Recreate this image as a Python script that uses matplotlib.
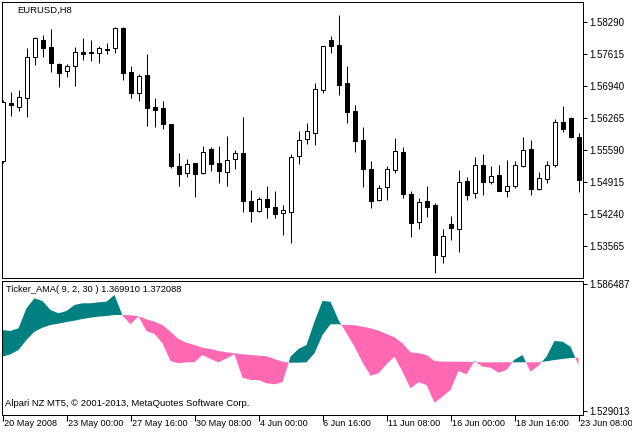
import matplotlib
matplotlib.use('Agg')
import matplotlib.pyplot as plt
import numpy as np

plt.rcParams['font.family'] = ['Liberation Sans', 'DejaVu Sans']

# ---- EURUSD H8 candles ----
opens = [1.55358, 1.56592, 1.56497, 1.56687, 1.57552, 1.57910, 1.57763, 1.57404, 1.57256, 1.57362,
         1.57657, 1.57657, 1.57636, 1.57731, 1.57741, 1.58163, 1.57235, 1.56792, 1.57172, 1.56497,
         1.56476, 1.56138, 1.55252, 1.55105, 1.55316, 1.55105, 1.55611, 1.55316, 1.55126, 1.55400,
         1.55527, 1.54514, 1.54303, 1.54556, 1.54388, 1.54261, 1.54282, 1.55463, 1.55822, 1.55949,
         1.56856, 1.57910, 1.57805, 1.57003, 1.56413, 1.55801, 1.55189, 1.54535, 1.54809, 1.55168,
         1.55548, 1.54662, 1.54071, 1.54514, 1.54430, 1.53354, 1.54029, 1.53924, 1.54936, 1.54683,
         1.55274, 1.54915, 1.55063, 1.54725, 1.54831, 1.55252, 1.55611, 1.54767, 1.54978, 1.55274,
         1.56181, 1.56265, 1.55864]
closes = [1.56602, 1.56529, 1.56708, 1.57552, 1.57952, 1.57741, 1.57425, 1.57214, 1.57362, 1.57657,
          1.57615, 1.57636, 1.57741, 1.57710, 1.58163, 1.57214, 1.56792, 1.57151, 1.56476, 1.56434,
          1.56138, 1.55252, 1.55084, 1.55295, 1.55084, 1.55548, 1.55295, 1.55147, 1.55379, 1.55527,
          1.54514, 1.54303, 1.54556, 1.54388, 1.54240, 1.54324, 1.55442, 1.55801, 1.55991, 1.56877,
          1.57784, 1.57784, 1.56961, 1.56392, 1.55780, 1.55189, 1.54514, 1.54788, 1.55189, 1.55569,
          1.54662, 1.54050, 1.54493, 1.54388, 1.53375, 1.53776, 1.53945, 1.54915, 1.54641, 1.55274,
          1.54915, 1.55042, 1.54725, 1.54831, 1.55274, 1.55590, 1.54767, 1.54999, 1.55274, 1.56181,
          1.56033, 1.55864, 1.54957]
highs = [1.56645, 1.56813, 1.56856, 1.57741, 1.57974, 1.58016, 1.58142, 1.57425, 1.57404, 1.57763,
         1.57952, 1.57910, 1.57784, 1.57847, 1.58184, 1.58184, 1.57362, 1.57193, 1.57615, 1.56687,
         1.56624, 1.56138, 1.55527, 1.55400, 1.55316, 1.55674, 1.55653, 1.55674, 1.55885, 1.55590,
         1.56286, 1.54746, 1.54599, 1.54831, 1.54725, 1.54430, 1.55506, 1.55991, 1.56159, 1.57003,
         1.57784, 1.57995, 1.58438, 1.57362, 1.56539, 1.56075, 1.55358, 1.54852, 1.55252, 1.55843,
         1.55653, 1.54725, 1.54577, 1.54831, 1.54472, 1.53924, 1.54198, 1.55168, 1.55020, 1.55442,
         1.55506, 1.55252, 1.55274, 1.55379, 1.55358, 1.55864, 1.55801, 1.55126, 1.55358, 1.56244,
         1.56518, 1.56286, 1.55949]
lows = [1.55316, 1.56307, 1.56413, 1.56286, 1.57383, 1.57552, 1.57235, 1.56919, 1.57130, 1.56940,
        1.57488, 1.57467, 1.57425, 1.57615, 1.57636, 1.57067, 1.56687, 1.56624, 1.56096, 1.56075,
        1.56033, 1.55210, 1.54831, 1.55020, 1.54599, 1.55084, 1.55147, 1.54894, 1.54831, 1.55189,
        1.54282, 1.54071, 1.54282, 1.54156, 1.54156, 1.53797, 1.53628, 1.55295, 1.55717, 1.55695,
        1.56792, 1.57636, 1.56750, 1.56159, 1.55548, 1.54809, 1.54366, 1.54514, 1.54535, 1.55105,
        1.54577, 1.53755, 1.53924, 1.54177, 1.52995, 1.53206, 1.53691, 1.53438, 1.54535, 1.54577,
        1.54641, 1.54873, 1.54725, 1.54599, 1.54788, 1.55231, 1.54641, 1.54746, 1.54894, 1.55231,
        1.55970, 1.55843, 1.54704]

# ---- Ticker_AMA indicator: fast and slow lines ----
ama_fast = [1.56567, 1.56522, 1.56644, 1.57549, 1.58002, 1.57879, 1.57472, 1.57323, 1.57427, 1.57698,
            1.57775, 1.57775, 1.57820, 1.57848, 1.58151, 1.57223, 1.56825, 1.57187, 1.56522, 1.56386,
            1.55965, 1.55164, 1.55060, 1.55105, 1.55105, 1.55436, 1.55255, 1.55105, 1.55286, 1.55467,
            1.54408, 1.54304, 1.54304, 1.54155, 1.54110, 1.54200, 1.55359, 1.55707, 1.55888, 1.56943,
            1.57879, 1.57848, 1.57020, 1.56418, 1.55811, 1.55105, 1.54499, 1.54607, 1.55015, 1.55359,
            1.54680, 1.53929, 1.54200, 1.54078, 1.53277, 1.53548, 1.53852, 1.54712, 1.54562, 1.55164,
            1.54906, 1.54861, 1.54635, 1.54757, 1.55223, 1.55436, 1.54680, 1.54951, 1.55359, 1.56069,
            1.56038, 1.55811, 1.54983]
ama_slow = [1.55359, 1.55467, 1.55662, 1.56114, 1.56490, 1.56671, 1.56793, 1.56852, 1.56929, 1.56988,
            1.57065, 1.57124, 1.57169, 1.57200, 1.57246, 1.57246, 1.57232, 1.57187, 1.57051, 1.56943,
            1.56793, 1.56490, 1.56160, 1.55992, 1.55888, 1.55766, 1.55707, 1.55617, 1.55558, 1.55513,
            1.55467, 1.55436, 1.55404, 1.55377, 1.55255, 1.55132, 1.55087, 1.55087, 1.55105, 1.55513,
            1.56341, 1.56825, 1.56825, 1.56793, 1.56780, 1.56716, 1.56644, 1.56535, 1.56386, 1.56237,
            1.55965, 1.55558, 1.55513, 1.55436, 1.55164, 1.55132, 1.55132, 1.55132, 1.55132, 1.55119,
            1.55105, 1.55105, 1.55105, 1.55105, 1.55105, 1.55105, 1.55105, 1.55105, 1.55151, 1.55209,
            1.55255, 1.55300, 1.55313]

price_ticks = [1.58290, 1.57615, 1.56940, 1.56265, 1.55590, 1.54915, 1.54240, 1.53565]
ind_ticks = [1.586487, 1.529013]
time_tick_idx = [0, 8, 16, 24, 32, 40, 48, 56, 64, 72]
time_labels = ["20 May 2008", "23 May 00:00", "27 May 16:00", "30 May 08:00", "4 Jun 00:00",
               "6 Jun 16:00", "11 Jun 08:00", "16 Jun 00:00", "18 Jun 16:00", "23 Jun 08:00"]

W, H = 632, 433
fig = plt.figure(figsize=(W / 100, H / 100), dpi=100)
fig.patch.set_facecolor('white')


def rect(l, t, r, b):
    return [l / W, 1 - b / H, (r - l) / W, (b - t) / H]


px = 0.72  # one pixel in points
ax = fig.add_axes(rect(2, 2, 583, 278))
ax2 = fig.add_axes(rect(2, 281, 583, 415))

n = len(opens)
x = np.arange(n)
o = np.array(opens); c = np.array(closes); h = np.array(highs); l = np.array(lows)
xlim = (-0.0625, 72.5625)

# candles
ax.vlines(x, l, h, color='black', linewidth=px, zorder=2)
bottoms = np.minimum(o, c)
heights = np.maximum(np.abs(c - o), 0.00002)
faces = ['white' if cc >= oo else 'black' for oo, cc in zip(o, c)]
ax.bar(x, heights, bottom=bottoms, width=0.5, color=faces, edgecolor='black',
       linewidth=px, zorder=3)
ax.set_xlim(*xlim)
ax.set_ylim(1.52890, 1.58712)

# indicator
f = np.array(ama_fast); s = np.array(ama_slow)
ax2.fill_between(x, f, s, where=f >= s, interpolate=True, color='#008080', linewidth=0)
ax2.fill_between(x, f, s, where=f < s, interpolate=True, color='#FF69B4', linewidth=0)
ax2.set_xlim(*xlim)
ax2.set_ylim(1.52720, 1.58784)

for a in (ax, ax2):
    for sp in a.spines.values():
        sp.set_linewidth(px)
        sp.set_color('black')
    a.yaxis.tick_right()
    a.tick_params(axis='y', direction='out', length=3, width=px, pad=1.5,
                  labelsize=7, colors='black')
    a.set_facecolor('white')

ax.set_yticks(price_ticks)
ax.set_yticklabels(['%.5f' % v for v in price_ticks])
ax.set_xticks([])

ax2.set_yticks(ind_ticks)
ax2.set_yticklabels(['%.6f' % v for v in ind_ticks])
ax2.set_xticks(time_tick_idx)
ax2.set_xticklabels([''] * len(time_tick_idx))
ax2.tick_params(axis='x', direction='out', length=4, width=px, colors='black')

for idx, lab in zip(time_tick_idx, time_labels):
    xp = 2.5 + 8 * idx + 1
    fig.text(xp / W, 1 - 423 / H, lab, fontsize=6.6, ha='left', va='center', color='black')

fig.text(17 / W, 1 - 10 / H, "EURUSD,H8", fontsize=6.8, ha='left', va='center')
fig.text(6 / W, 1 - 289 / H, "Ticker_AMA( 9, 2, 30 ) 1.369910 1.372088", fontsize=6.7,
         ha='left', va='center')
fig.text(5 / W, 1 - 404 / H, "Alpari NZ MT5, \u00a9 2001-2013, MetaQuotes Software Corp.",
         fontsize=6.8, ha='left', va='center')

fig.savefig('out.png', dpi=100, facecolor='white')
